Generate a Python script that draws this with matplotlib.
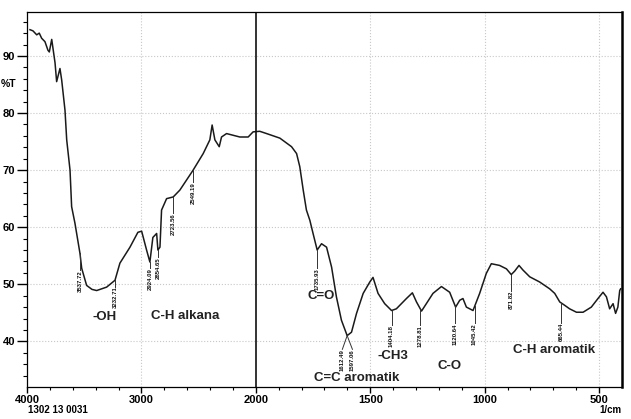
import matplotlib
matplotlib.use("Agg")
import matplotlib.pyplot as plt
import numpy as np
from matplotlib.ticker import FixedLocator

plt.rcParams['font.family'] = ['Liberation Sans', 'DejaVu Sans']

# spectrum (wavenumber 1/cm, %T)
wn = np.array([3974, 3948, 3915, 3893, 3872, 3843, 3817, 3805, 3784, 3755,
               3741, 3712, 3697, 3668, 3653, 3624, 3610, 3581, 3537, 3522,
               3479, 3432, 3391, 3304, 3231, 3188, 3100, 3031, 2998, 2955,
               2926, 2900, 2867, 2856, 2838, 2824, 2780, 2722, 2664, 2548,
               2460, 2402, 2382, 2358, 2320, 2300, 2256, 2140, 2067, 2024,
               1983, 1953, 1895, 1844, 1822, 1808, 1793, 1779, 1764, 1750,
               1732, 1713, 1691, 1669, 1648, 1626, 1601, 1582, 1560, 1531,
               1502, 1488, 1466, 1437, 1407, 1386, 1342, 1316, 1298, 1276,
               1255, 1226, 1189, 1153, 1127, 1109, 1095, 1080, 1051, 1022,
               993, 971, 935, 905, 884, 869, 850, 833, 803, 760,
               716, 694, 672, 650, 629, 599, 570, 534, 505, 483,
               468, 454, 439, 428, 418, 410, 406])
trans = np.array([94.6, 94.4, 93.7, 94.0, 93.1, 92.5, 91.0, 90.7, 92.9, 88.8,
                  85.5, 87.8, 85.8, 80.5, 75.3, 70.0, 63.6, 60.7, 55.4, 52.8,
                  49.8, 49.1, 48.9, 49.5, 50.7, 53.7, 56.5, 59.1, 59.3, 56.0,
                  53.9, 58.2, 58.9, 56.0, 56.5, 63.0, 65.0, 65.3, 66.5, 70.0,
                  72.9, 75.3, 77.9, 75.3, 74.1, 75.8, 76.4, 75.8, 75.8, 76.7,
                  76.8, 76.4, 75.6, 74.1, 72.9, 70.6, 66.5, 63.0, 61.2, 58.9,
                  56.0, 57.1, 56.5, 53.0, 47.8, 43.7, 41.0, 41.6, 44.9, 48.4,
                  50.4, 51.2, 48.4, 46.6, 45.4, 45.7, 47.5, 48.5, 46.9, 45.3,
                  46.6, 48.4, 49.6, 48.6, 46.0, 47.2, 47.5, 46.0, 45.4, 48.4,
                  51.9, 53.6, 53.3, 52.7, 51.7, 52.3, 53.3, 52.5, 51.3, 50.4,
                  49.2, 48.4, 46.9, 46.3, 45.7, 45.1, 45.1, 46.0, 47.5, 48.6,
                  47.8, 45.7, 46.6, 44.9, 46.0, 48.9, 49.2])

# peak labels: band position on the curve, label position, text, label top (%T)
peak_wn = [3537, 3231, 2926, 2856, 2722, 2548, 1732, 1601, 1601,
           1407, 1284, 1131, 1044, 884, 665]
peak_lab = [3537, 3231, 2926, 2856, 2722, 2548, 1732, 1622, 1578,
            1407, 1284, 1131, 1044, 884, 665]
peak_txt = ["3537.72", "3232.71", "2924.09", "2854.65", "2723.56", "2549.19",
            "1735.93", "1612.49", "1597.06", "1404.18", "1278.81", "1120.64",
            "1045.42", "871.82", "665.44"]
peak_top = [52.5, 49.6, 52.8, 54.7, 62.5, 67.9, 52.8, 38.6, 38.6,
            42.8, 42.8, 43.2, 43.2, 48.9, 43.3]

groups = ["-OH", "C-H alkana", "C=O", "-CH3", "C=C aromatik", "C-O", "C-H aromatik"]
group_wn = [3319, 2620, 1716, 1402, 1559, 1153, 699]
group_t = [44.2, 44.5, 47.9, 37.5, 33.5, 35.6, 38.4]


def fwd(x):
    x = np.asarray(x, dtype=float)
    return np.where(x > 2000, 2000 + (x - 2000) / 2, x)


def inv(y):
    y = np.asarray(y, dtype=float)
    return np.where(y > 2000, 2000 + (y - 2000) * 2, y)


fig = plt.figure(figsize=(6.31, 4.19), dpi=100)
ax = fig.add_axes([27 / 631, 1 - 387 / 419, 595 / 631, 375 / 419])
ax.set_xscale('function', functions=(fwd, inv))
ax.set_xlim(4000, 400)
ax.set_ylim(32, 97.7)

ax.plot(wn, trans, color='#1a1a1a', lw=1.1)
ax.axvline(2000, color='#111111', lw=1.2)

ax.xaxis.set_major_locator(FixedLocator([4000, 3000, 2000, 1500, 1000, 500]))
ax.xaxis.set_minor_locator(FixedLocator(list(range(3800, 2000, -200)) + list(range(1900, 400, -100))))
ax.yaxis.set_major_locator(FixedLocator([40, 50, 60, 70, 80, 90]))
ax.yaxis.set_minor_locator(FixedLocator(list(range(34, 98, 2))))
ax.tick_params(axis='y', which='major', length=7, width=1, pad=1.5, labelsize=8)
ax.tick_params(axis='y', which='minor', length=3, width=0.8)
ax.tick_params(axis='x', which='major', length=4, width=1, pad=2, labelsize=8)
ax.tick_params(axis='x', which='minor', length=2.5, width=0.8)
for lab in ax.get_xticklabels() + ax.get_yticklabels():
    lab.set_fontweight('bold')

for x in [3000, 1500, 1000, 500]:
    ax.axvline(x, color='#c8c8c8', lw=0.8, ls=':', zorder=0)
for y in [40, 50, 60, 70, 80, 90]:
    ax.axhline(y, color='#c8c8c8', lw=0.8, ls=':', zorder=0)

for s in ['left', 'bottom', 'top']:
    ax.spines[s].set_linewidth(0.9)
ax.spines['right'].set_linewidth(1.8)

for x, xl, t, top in zip(peak_wn, peak_lab, peak_txt, peak_top):
    yc = np.interp(x, wn[::-1], trans[::-1])
    ax.plot([x, xl], [yc, top], color='#333333', lw=0.7)
    ax.text(xl, top, t, rotation=90, ha='center', va='top', fontsize=4.3,
            fontweight='bold', color='#111111')

for g, x, y in zip(groups, group_wn, group_t):
    ax.text(x, y, g, ha='center', va='center', fontsize=9.5, fontweight='bold',
            color='#222222')

fig.text(1 / 631, 1 - 84 / 419, "%T", ha='left', va='center', fontsize=7.5,
         fontweight='bold')
fig.text(28 / 631, 1 - 410 / 419, "1302 13 0031", ha='left', va='center',
         fontsize=7, fontweight='bold')
fig.text(622 / 631, 1 - 410 / 419, "1/cm", ha='right', va='center',
         fontsize=7, fontweight='bold')

fig.savefig("out.png", dpi=100)
plt.close(fig)
